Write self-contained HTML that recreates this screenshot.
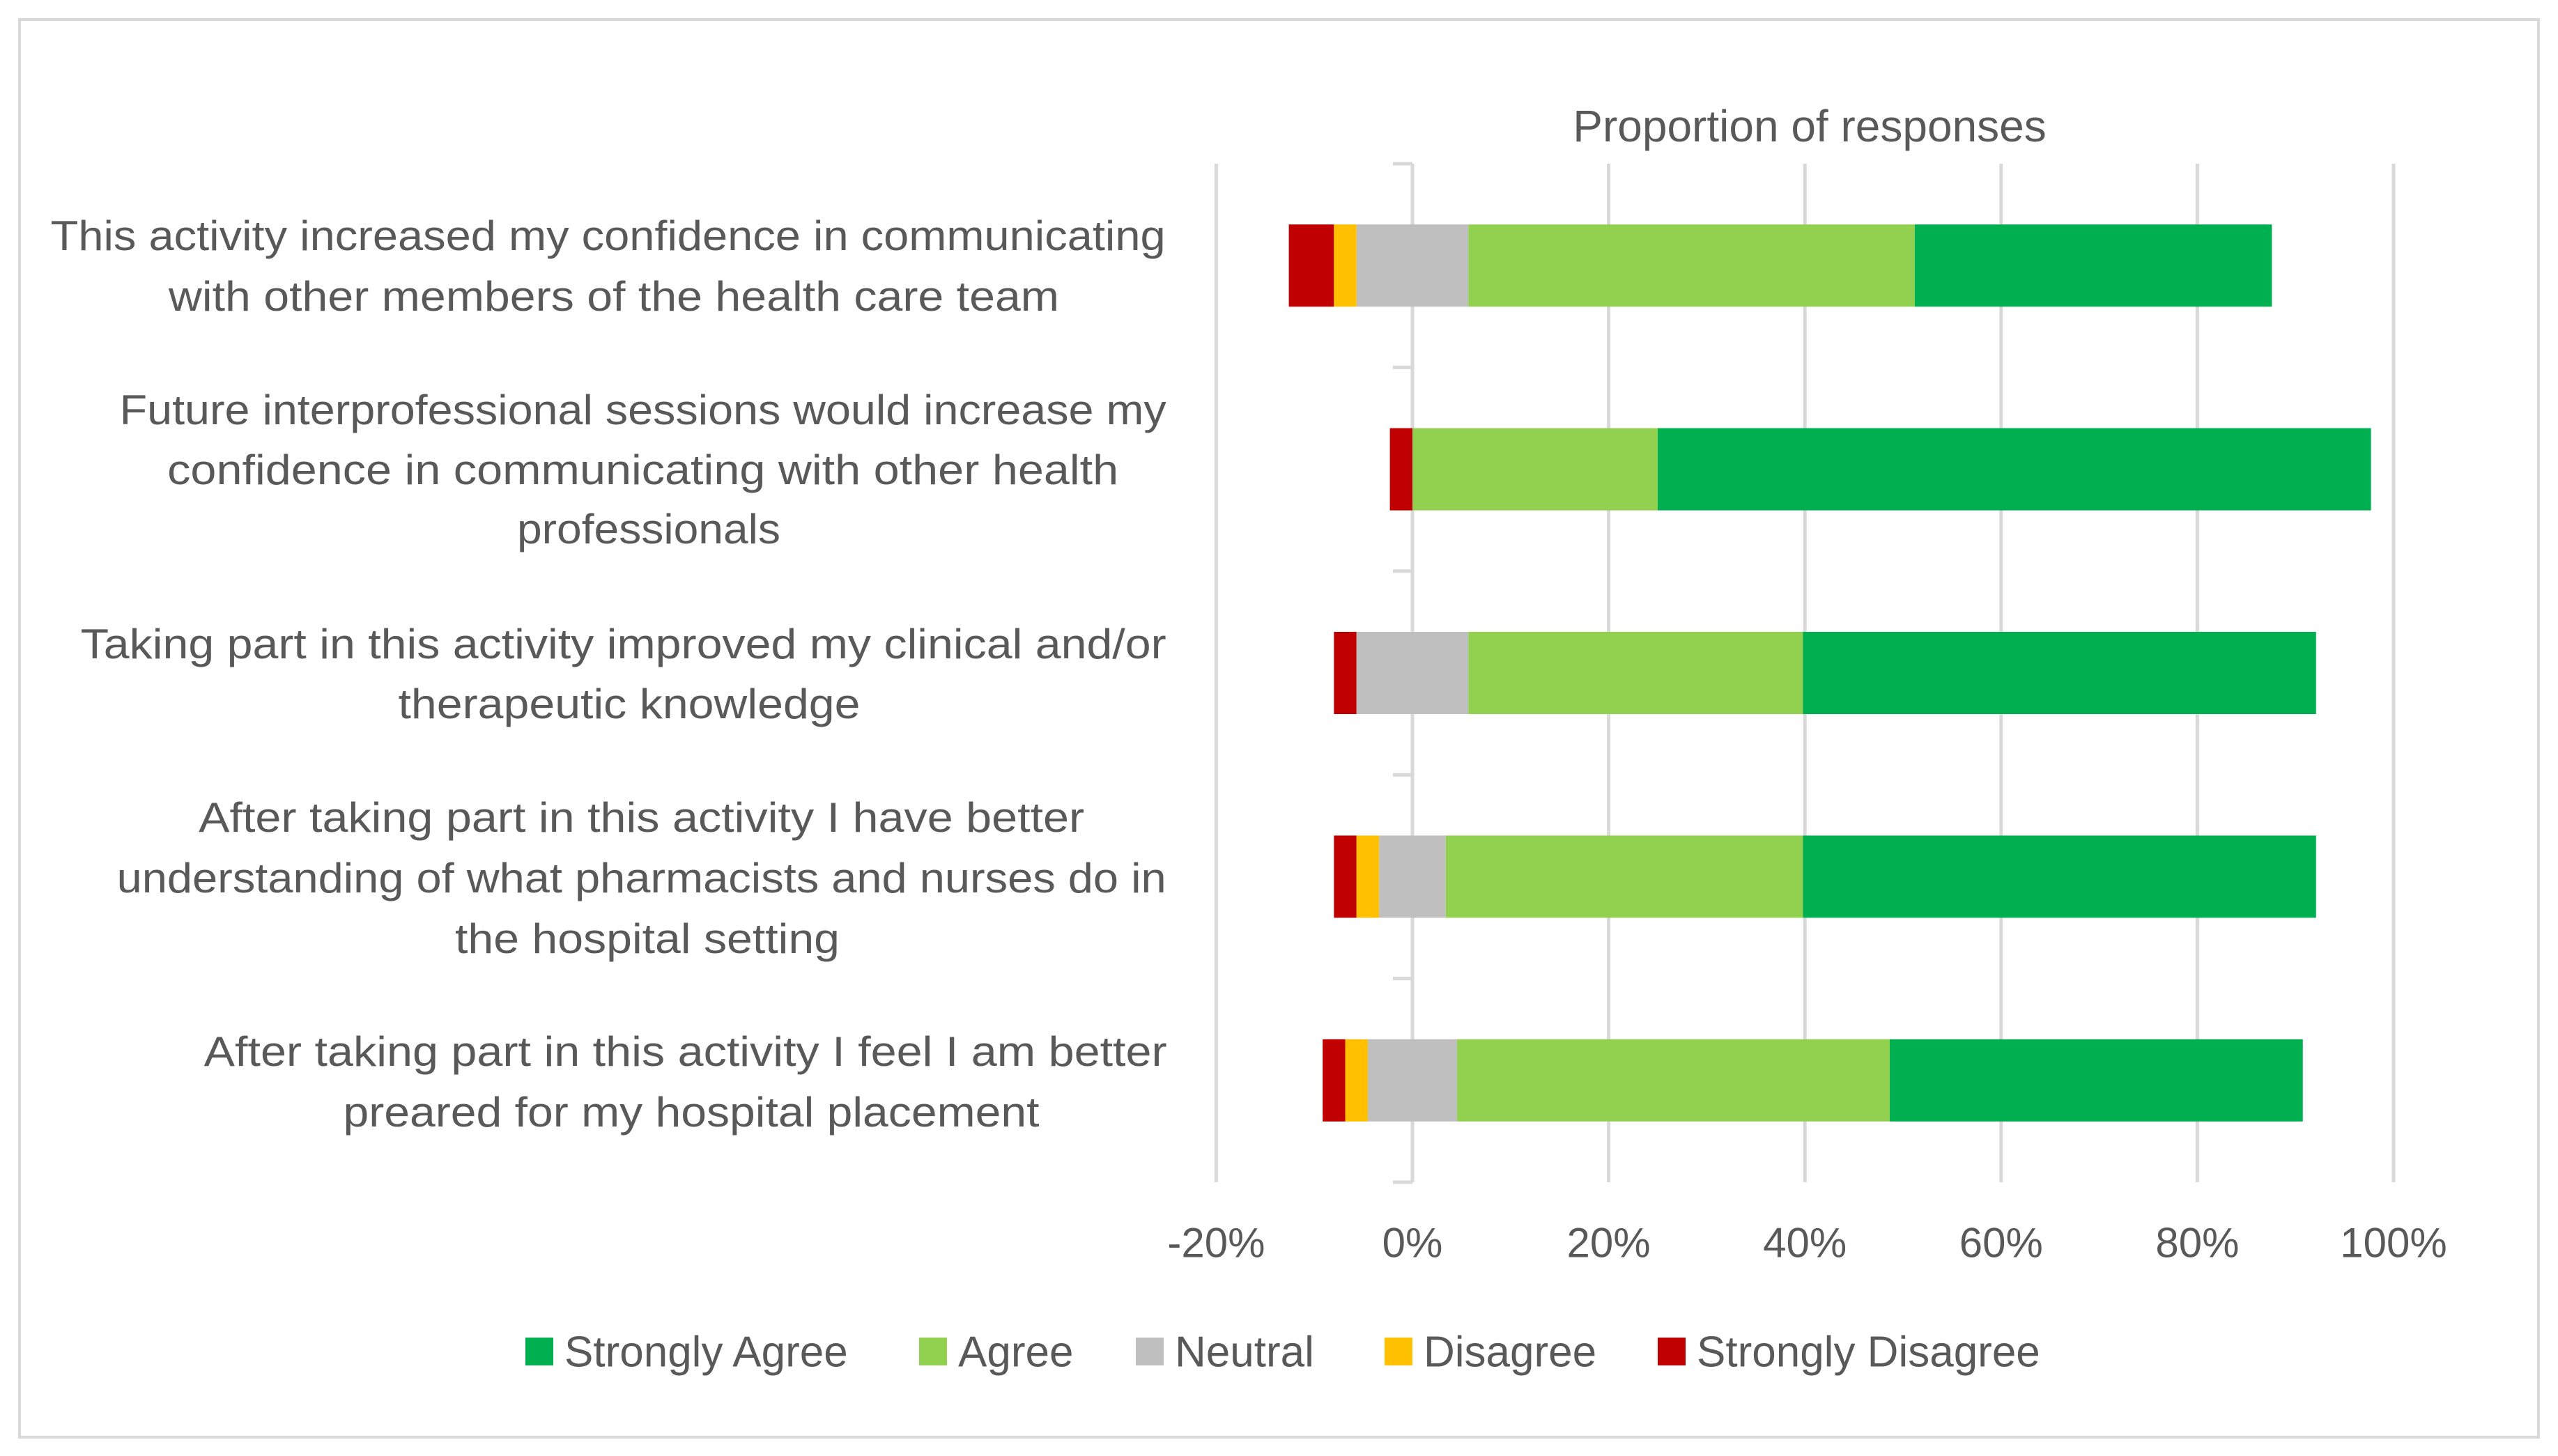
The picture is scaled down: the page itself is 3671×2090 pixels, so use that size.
<!DOCTYPE html>
<html><head><meta charset="utf-8"><style>
html,body{margin:0;padding:0;background:#fff}
svg{display:block}
text{font-family:"Liberation Sans",sans-serif;fill:#595959}
</style></head><body>
<svg id="chart" width="3671" height="2090" viewBox="0 0 3671 2090" xmlns="http://www.w3.org/2000/svg">
<rect x="28" y="28" width="3615" height="2035" fill="#fff" stroke="#d9d9d9" stroke-width="4"/>
<text x="2597" y="181" font-size="64" text-anchor="middle" dominant-baseline="central">Proportion of responses</text>
<g id="grid"></g>
<g id="bars"></g>
<g id="ticks"></g>
<g id="cats">
<text font-size="60" text-anchor="middle" dominant-baseline="central">
<tspan x="881" y="338" textLength="1600" lengthAdjust="spacingAndGlyphs">This activity increased my confidence in communicating</tspan>
<tspan x="881" y="425" textLength="1278" lengthAdjust="spacingAndGlyphs">with other members of the health care team</tspan></text>
<text font-size="60" text-anchor="middle" dominant-baseline="central">
<tspan x="931" y="588" textLength="1502" lengthAdjust="spacingAndGlyphs">Future interprofessional sessions would increase my</tspan>
<tspan x="931" y="674" textLength="1365" lengthAdjust="spacingAndGlyphs">confidence in communicating with other health</tspan>
<tspan x="931" y="759" textLength="378" lengthAdjust="spacingAndGlyphs">professionals</tspan></text>
<text font-size="60" text-anchor="middle" dominant-baseline="central">
<tspan x="903" y="924" textLength="1558" lengthAdjust="spacingAndGlyphs">Taking part in this activity improved my clinical and/or</tspan>
<tspan x="903" y="1010" textLength="663" lengthAdjust="spacingAndGlyphs">therapeutic knowledge</tspan></text>
<text font-size="60" text-anchor="middle" dominant-baseline="central">
<tspan x="929" y="1173" textLength="1271" lengthAdjust="spacingAndGlyphs">After taking part in this activity I have better</tspan>
<tspan x="929" y="1260" textLength="1506" lengthAdjust="spacingAndGlyphs">understanding of what pharmacists and nurses do in</tspan>
<tspan x="929" y="1347" textLength="552" lengthAdjust="spacingAndGlyphs">the hospital setting</tspan></text>
<text font-size="60" text-anchor="middle" dominant-baseline="central">
<tspan x="992" y="1509" textLength="1382" lengthAdjust="spacingAndGlyphs">After taking part in this activity I feel I am better</tspan>
<tspan x="992" y="1596" textLength="999" lengthAdjust="spacingAndGlyphs">preared for my hospital placement</tspan></text>
</g>
<g id="legend"></g>
</svg>
<script>
const categories = ["Q1 confidence communicating","Q2 future sessions","Q3 clinical knowledge","Q4 understanding roles","Q5 prepared for placement"];
const stronglyDisagree = [4.6, 2.3, 2.3, 2.3, 2.3];
const disagree = [2.3, 0, 0, 2.3, 2.3];
const neutral = [11.4, 0, 11.4, 6.8, 9.1];
const agree = [45.5, 25.0, 34.1, 36.4, 44.1];
const stronglyAgree = [36.4, 72.7, 52.3, 52.3, 42.1];
const xTicks = [-20, 0, 20, 40, 60, 80, 100];
const seriesNames = ["Strongly Agree","Agree","Neutral","Disagree","Strongly Disagree"];
const colors = {sa:"#00b050", a:"#92d050", n:"#bfbfbf", d:"#ffc000", sd:"#c00000"};

const NS = "http://www.w3.org/2000/svg";
const X0 = 2027, PER = 14.08;
const xs = v => X0 + v * PER;
const yTop = 235, yBottom = 1697;
const band = (yBottom - yTop) / categories.length;
const yc = i => yTop + band * (i + 0.5);
const barH = 118;
function mk(tag, attrs, parent){const e=document.createElementNS(NS,tag);for(const k in attrs)e.setAttribute(k,attrs[k]);parent.appendChild(e);return e;}

const grid = document.getElementById('grid');
xTicks.forEach(t => {
  const l = mk('line',{x1:xs(t),x2:xs(t),y1:yTop,y2:yBottom,stroke:'#d9d9d9','stroke-width':5},grid);
  
  
});
for(let i=0;i<=categories.length;i++){
  const y = yTop + band*i;
  const tk = mk('line',{x1:xs(0)-28,x2:xs(0),y1:y,y2:y,stroke:'#d9d9d9','stroke-width':5},grid);
  
  
}

const bars = document.getElementById('bars');
categories.forEach((c,i) => {
  const segs = [];
  let start = -neutral[i]/2 - disagree[i] - stronglyDisagree[i];
  segs.push(['strongly-disagree', stronglyDisagree[i], colors.sd]);
  segs.push(['disagree', disagree[i], colors.d]);
  segs.push(['neutral', neutral[i], colors.n]);
  segs.push(['agree', agree[i], colors.a]);
  segs.push(['strongly-agree', stronglyAgree[i], colors.sa]);
  segs.forEach(s => {
    if (s[1] > 0) {
      const r = mk('rect',{x:xs(start),y:yc(i)-barH/2,width:xs(start+s[1])-xs(start),height:barH,fill:s[2]},bars);
      
      
    }
    start += s[1];
  });
});

const ticks = document.getElementById('ticks');
xTicks.forEach(t => {
  const tx = mk('text',{x:xs(t),y:1784,'font-size':60,'text-anchor':'middle','dominant-baseline':'central'},ticks);
  tx.textContent = t + '%';
  
  
});

const legend = document.getElementById('legend');
const legX = [754, 1319, 1630, 1987, 2379];
const legC = [colors.sa, colors.a, colors.n, colors.d, colors.sd];
seriesNames.forEach((n,i) => {
  const g = mk('g',{},legend);
  
  
  mk('rect',{x:legX[i],y:1920,width:40,height:40,fill:legC[i]},g);
  const t = mk('text',{x:legX[i]+56,y:1941,'font-size':62,'dominant-baseline':'central'},g);
  t.textContent = n;
});
</script>
</body></html>
